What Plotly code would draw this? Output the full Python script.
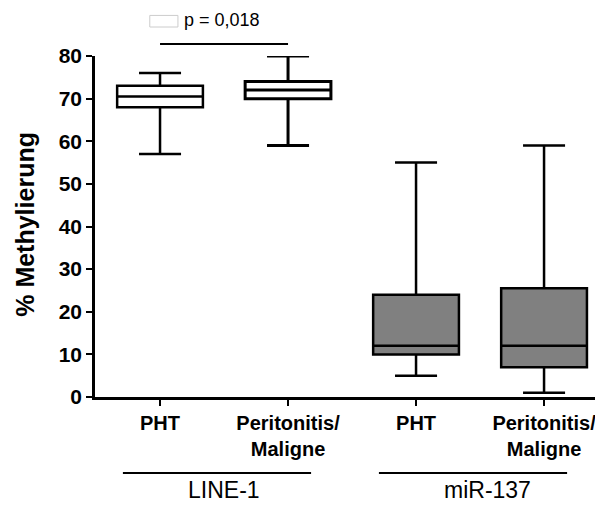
import plotly.graph_objects as go

# Box statistics per group (min whisker, Q1, median, Q3, max whisker)
groups = ["LINE-1", "LINE-1", "miR-137", "miR-137"]
tick_labels = ["PHT", "Peritonitis/<br>Maligne", "PHT", "Peritonitis/<br>Maligne"]
lower = [57.0, 59.0, 5.0, 1.0]
q1 = [68.0, 70.0, 10.0, 7.0]
median = [70.5, 72.0, 12.0, 12.0]
q3 = [73.0, 74.0, 24.0, 25.5]
upper = [76.0, 80.0, 55.0, 59.0]
fills = ["white", "white", "#808080", "#808080"]
line_widths = [2.5, 3, 2.5, 2.5]

group_names = ["LINE-1", "miR-137"]
group_members = [[0, 1], [2, 3]]
group_label_shift = [0.0, 0.06]
p_text = "p = 0,018"
p_pair = [0, 1]

y_ticks = [0, 10, 20, 30, 40, 50, 60, 70, 80]
x_range = [-0.508, 3.398]
FONT = "Liberation Sans, Arial, sans-serif"

positions = list(range(len(tick_labels)))

fig = go.Figure()
for i in positions:
    fig.add_trace(go.Box(
        x=[i], q1=[q1[i]], median=[median[i]], q3=[q3[i]],
        lowerfence=[lower[i]], upperfence=[upper[i]],
        width=0.67, whiskerwidth=0.49,
        fillcolor=fills[i],
        line=dict(color="black", width=line_widths[i]),
        boxpoints=False, showlegend=False, hoverinfo="skip",
    ))


def xpaper(v):
    return (v - x_range[0]) / (x_range[1] - x_range[0])


shapes = []
annotations = []

# group brackets under the category labels
for name, members, shift in zip(group_names, group_members, group_label_shift):
    a, b = members[0] - 0.29, members[-1] + 0.18
    shapes.append(dict(type="line", xref="paper", yref="paper",
                       x0=xpaper(a), x1=xpaper(b), y0=-0.223, y1=-0.223,
                       line=dict(color="black", width=2)))
    annotations.append(dict(xref="paper", yref="paper",
                            x=xpaper((members[0] + members[-1]) / 2 + shift), y=-0.317,
                            text=name, showarrow=False, xanchor="center", yanchor="bottom",
                            font=dict(family=FONT, size=23, color="black")))

# significance bar
shapes.append(dict(type="line", xref="paper", yref="paper",
                   x0=xpaper(p_pair[0]), x1=xpaper(p_pair[1]), y0=1.035, y1=1.035,
                   line=dict(color="black", width=2)))
shapes.append(dict(type="rect", xref="paper", yref="paper",
                   x0=xpaper(p_pair[0] - 0.08), x1=xpaper(p_pair[0] + 0.14),
                   y0=1.102 - 0.017, y1=1.102 + 0.017,
                   fillcolor="white", line=dict(color="#cccccc", width=1)))
annotations.append(dict(xref="paper", yref="paper",
                        x=xpaper(p_pair[0] + 0.17), y=1.106, text=p_text,
                        showarrow=False, xanchor="left", yanchor="middle",
                        font=dict(family=FONT, size=18, color="black")))

# y axis title
annotations.append(dict(xref="paper", yref="paper", x=-0.14, y=0.505,
                        text="<b>% Methylierung</b>", textangle=-90, showarrow=False,
                        xanchor="center", yanchor="middle",
                        font=dict(family=FONT, size=25, color="black")))

fig.update_layout(
    width=595, height=506,
    margin=dict(l=95, r=0, t=56, b=109),
    paper_bgcolor="white", plot_bgcolor="white",
    shapes=shapes, annotations=annotations,
    xaxis=dict(
        range=x_range, tickmode="array", tickvals=positions,
        ticktext=[f"<b>{t}</b>" for t in tick_labels],
        ticklabeloverflow="allow",
        showline=True, linecolor="black", linewidth=2.5,
        ticks="outside", ticklen=6, tickwidth=2, tickcolor="black",
        showgrid=False, zeroline=False, automargin=False,
        tickfont=dict(family=FONT, size=20, color="black"),
    ),
    yaxis=dict(
        range=[0, 80], tickmode="array", tickvals=y_ticks,
        ticktext=[f"<b>{v}</b>" for v in y_ticks],
        showline=True, linecolor="black", linewidth=2.5,
        ticks="outside", ticklen=6, tickwidth=2, tickcolor="black",
        showgrid=False, zeroline=False, automargin=False,
        tickfont=dict(family=FONT, size=21, color="black"),
    ),
)

fig.write_html("out.html")
